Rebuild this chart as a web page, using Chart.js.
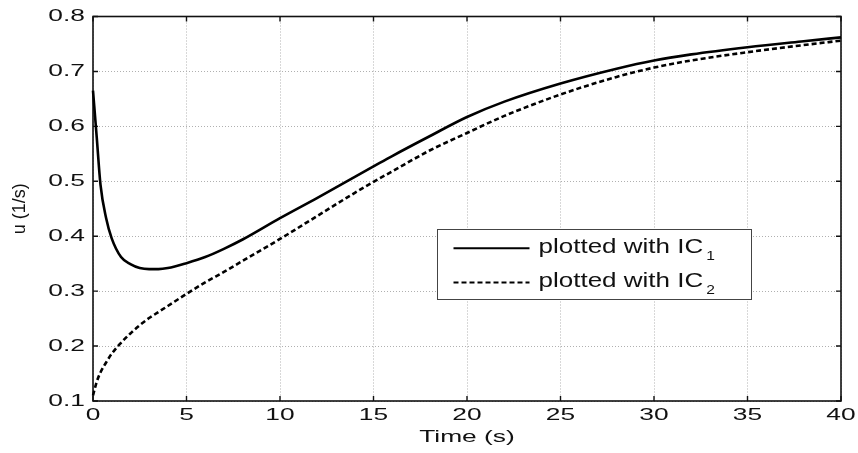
<!DOCTYPE html>
<html><head><meta charset="utf-8">
<script src="https://cdn.jsdelivr.net/npm/chart.js@4"></script>
<style>html,body{margin:0;padding:0;background:#fff}canvas{display:block}</style>
</head><body>
<canvas id="c" width="858" height="453"></canvas>
<script>
// ---- data ----
const time = [0, 0.2, 0.4, 0.7, 1, 1.5, 2, 2.5, 3, 3.5, 4, 5, 6, 7, 8, 10, 12, 14, 15, 16, 18, 20, 22, 25, 28, 30, 32, 35, 38, 40];
const uIC1 = [0.665, 0.58, 0.494, 0.433, 0.396, 0.362, 0.349, 0.342, 0.340, 0.340, 0.342, 0.351, 0.362, 0.377, 0.394, 0.433, 0.470, 0.508, 0.527, 0.546, 0.582, 0.617, 0.645, 0.678, 0.705, 0.720, 0.731, 0.744, 0.755, 0.762];
const uIC2 = [0.11, 0.135, 0.152, 0.17, 0.186, 0.206, 0.223, 0.238, 0.251, 0.262, 0.273, 0.295, 0.316, 0.335, 0.355, 0.395, 0.437, 0.479, 0.499, 0.518, 0.556, 0.588, 0.619, 0.658, 0.690, 0.707, 0.720, 0.735, 0.748, 0.756];
const xTicks = [0, 5, 10, 15, 20, 25, 30, 35, 40];
const yTicks = [0.1, 0.2, 0.3, 0.4, 0.5, 0.6, 0.7, 0.8];
const seriesLabels = ['plotted with IC', 'plotted with IC'];
const seriesSubs = ['1', '2'];
const xTitle = 'Time (s)';
const yTitle = 'u (1/s)';

const FONT = "'Liberation Sans', Arial, Helvetica, sans-serif";
let textStretch = 1.55;

const canvas = document.getElementById('c');
const ctx2d = canvas.getContext('2d');
// wide text rendering (horizontal, unrotated text only)
(function(ctx){
  const orig = ctx.fillText.bind(ctx);
  ctx.fillText = function(text, x, y, maxWidth){
    const m = ctx.getTransform();
    if (Math.abs(m.b) > 1e-6 || Math.abs(m.c) > 1e-6) {
      return orig(text, x, y);
    }
    ctx.save();
    ctx.translate(x, y);
    ctx.scale(textStretch, 1);
    if (maxWidth === undefined) orig(text, 0, 0); else orig(text, 0, 0, maxWidth / textStretch);
    ctx.restore();
  };
})(ctx2d);

const framePlugin = {
  id: 'frame',
  beforeDatasetsDraw(chart) {
    const {ctx, chartArea: a, scales: {x, y}} = chart;
    ctx.save();
    ctx.strokeStyle = '#111';
    ctx.lineWidth = 1.6;
    ctx.strokeRect(a.left, a.top, a.width, a.height);
    ctx.lineWidth = 1.4;
    const L = 5;
    ctx.beginPath();
    x.ticks.forEach(t => {
      const px = x.getPixelForValue(t.value);
      ctx.moveTo(px, a.bottom); ctx.lineTo(px, a.bottom - L);
      ctx.moveTo(px, a.top); ctx.lineTo(px, a.top + L);
    });
    y.ticks.forEach(t => {
      const py = y.getPixelForValue(t.value);
      ctx.moveTo(a.left, py); ctx.lineTo(a.left + L, py);
      ctx.moveTo(a.right, py); ctx.lineTo(a.right - L, py);
    });
    ctx.stroke();
    ctx.restore();
  }
};

const legendPlugin = {
  id: 'legendBox',
  afterDatasetsDraw(chart) {
    const {ctx, chartArea: a} = chart;
    const left = Math.round(a.left + 0.46 * a.width) + 0.5;
    const top = Math.round(a.top + 0.553 * a.height) + 0.5;
    const w = Math.round(0.42 * a.width);
    const h = Math.round(0.181 * a.height);
    const prevStretch = textStretch;
    textStretch = 1.3;
    ctx.save();
    ctx.fillStyle = '#fff';
    ctx.fillRect(left, top, w, h);
    ctx.strokeStyle = '#444';
    ctx.lineWidth = 1;
    ctx.strokeRect(left, top, w, h);
    chart.data.datasets.forEach((ds, i) => {
      const cy = top + h * (0.268 + 0.49 * i);
      ctx.strokeStyle = ds.borderColor;
      ctx.lineWidth = 2;
      ctx.setLineDash(ds.borderDash || []);
      ctx.beginPath();
      ctx.moveTo(left + 16, cy);
      ctx.lineTo(left + 92, cy);
      ctx.stroke();
      ctx.setLineDash([]);
      ctx.fillStyle = '#111';
      ctx.textAlign = 'left';
      ctx.textBaseline = 'alphabetic';
      ctx.font = '20px ' + FONT;
      const tx = left + 101, by = cy + 4.5;
      ctx.fillText(seriesLabels[i], tx, by);
      const tw = ctx.measureText(seriesLabels[i]).width * textStretch;
      ctx.font = '12px ' + FONT;
      ctx.fillText(seriesSubs[i], tx + tw + 3, by + 7);
    });
    ctx.restore();
    textStretch = prevStretch;
  }
};

const gridOpts = { color: '#b0b0b0', lineWidth: 1, drawTicks: false };
const borderOpts = { display: false, dash: [1, 2] };

new Chart(ctx2d, {
  type: 'line',
  data: {
    datasets: [
      {
        label: seriesLabels[0] + seriesSubs[0],
        data: time.map((t, i) => ({x: t, y: uIC1[i]})),
        borderColor: '#000', borderWidth: 2.6, pointRadius: 0,
        cubicInterpolationMode: 'monotone', fill: false, clip: false
      },
      {
        label: seriesLabels[1] + seriesSubs[1],
        data: time.map((t, i) => ({x: t, y: uIC2[i]})),
        borderColor: '#000', borderWidth: 2.6, borderDash: [5, 3], pointRadius: 0,
        cubicInterpolationMode: 'monotone', fill: false, clip: false
      }
    ]
  },
  options: {
    responsive: false,
    animation: false,
    events: [],
    layout: { padding: { left: 0, right: 17, top: 9.5, bottom: 0 } },
    plugins: { legend: { display: false }, tooltip: { enabled: false }, title: { display: false } },
    scales: {
      x: {
        type: 'linear', min: xTicks[0], max: xTicks[xTicks.length - 1],
        afterBuildTicks: s => { s.ticks = xTicks.map(v => ({value: v})); },
        afterFit: s => { s.height = 52; },
        grid: gridOpts, border: borderOpts,
        ticks: { autoSkip: false, maxRotation: 0, padding: 6, color: '#111',
                 font: { family: FONT, size: 17, lineHeight: 1 },
                 callback: v => String(v) },
        title: { display: true, text: xTitle, color: '#111',
                 font: { family: FONT, size: 17 }, padding: { top: 0, bottom: 5 } }
      },
      y: {
        type: 'linear', min: yTicks[0], max: yTicks[yTicks.length - 1],
        afterBuildTicks: s => { s.ticks = yTicks.map(v => ({value: v})); },
        afterFit: s => { s.width = 93; },
        grid: gridOpts, border: borderOpts,
        ticks: { padding: 8, color: '#111',
                 font: { family: FONT, size: 17, lineHeight: 1 },
                 callback: v => Number(v).toFixed(1) },
        title: { display: true, text: yTitle, color: '#111',
                 font: { family: FONT, size: 18 }, padding: { top: 9, bottom: 0 } }
      }
    }
  },
  plugins: [framePlugin, legendPlugin]
});
</script>
</body></html>
